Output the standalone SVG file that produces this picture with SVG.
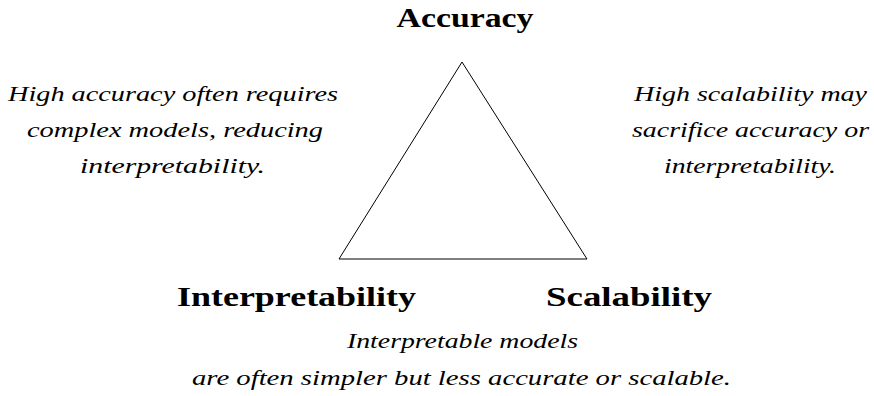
<svg xmlns="http://www.w3.org/2000/svg" width="874" height="396" viewBox="0 0 874 396">
<style>
.lbl{font-family:'Liberation Serif','Times New Roman',Times,serif;font-weight:bold;font-size:27px;fill:#000;text-anchor:middle}
.note{font-family:'Liberation Serif','Times New Roman',Times,serif;font-style:italic;font-size:22px;fill:#000;text-anchor:middle}
</style>
<rect width="874" height="396" fill="#fff"/>
<g id="connectors">
<polygon points="462,62 339,259 587,259" fill="none" stroke="#000" stroke-width="1"/>
</g>
<g id="accuracy"><text class="lbl" x="465" y="27" textLength="137" lengthAdjust="spacingAndGlyphs">Accuracy</text></g>
<g id="interpretability"><text class="lbl" x="296.5" y="306" textLength="239" lengthAdjust="spacingAndGlyphs">Interpretability</text></g>
<g id="scalability"><text class="lbl" x="629" y="306" textLength="166" lengthAdjust="spacingAndGlyphs">Scalability</text></g>
<g id="note-left">
<text class="note" x="173" y="101" textLength="330" lengthAdjust="spacingAndGlyphs">High accuracy often requires</text>
<text class="note" x="175" y="137" textLength="296" lengthAdjust="spacingAndGlyphs">complex models, reducing</text>
<text class="note" x="172.5" y="173" textLength="185" lengthAdjust="spacingAndGlyphs">interpretability.</text>
</g>
<g id="note-right">
<text class="note" x="750.5" y="101" textLength="233" lengthAdjust="spacingAndGlyphs">High scalability may</text>
<text class="note" x="750.5" y="137" textLength="237" lengthAdjust="spacingAndGlyphs">sacrifice accuracy or</text>
<text class="note" x="750" y="173" textLength="172" lengthAdjust="spacingAndGlyphs">interpretability.</text>
</g>
<g id="note-bottom">
<text class="note" x="462.5" y="348" textLength="231" lengthAdjust="spacingAndGlyphs">Interpretable models</text>
<text class="note" x="461.5" y="385" textLength="539" lengthAdjust="spacingAndGlyphs">are often simpler but less accurate or scalable.</text>
</g>
</svg>
